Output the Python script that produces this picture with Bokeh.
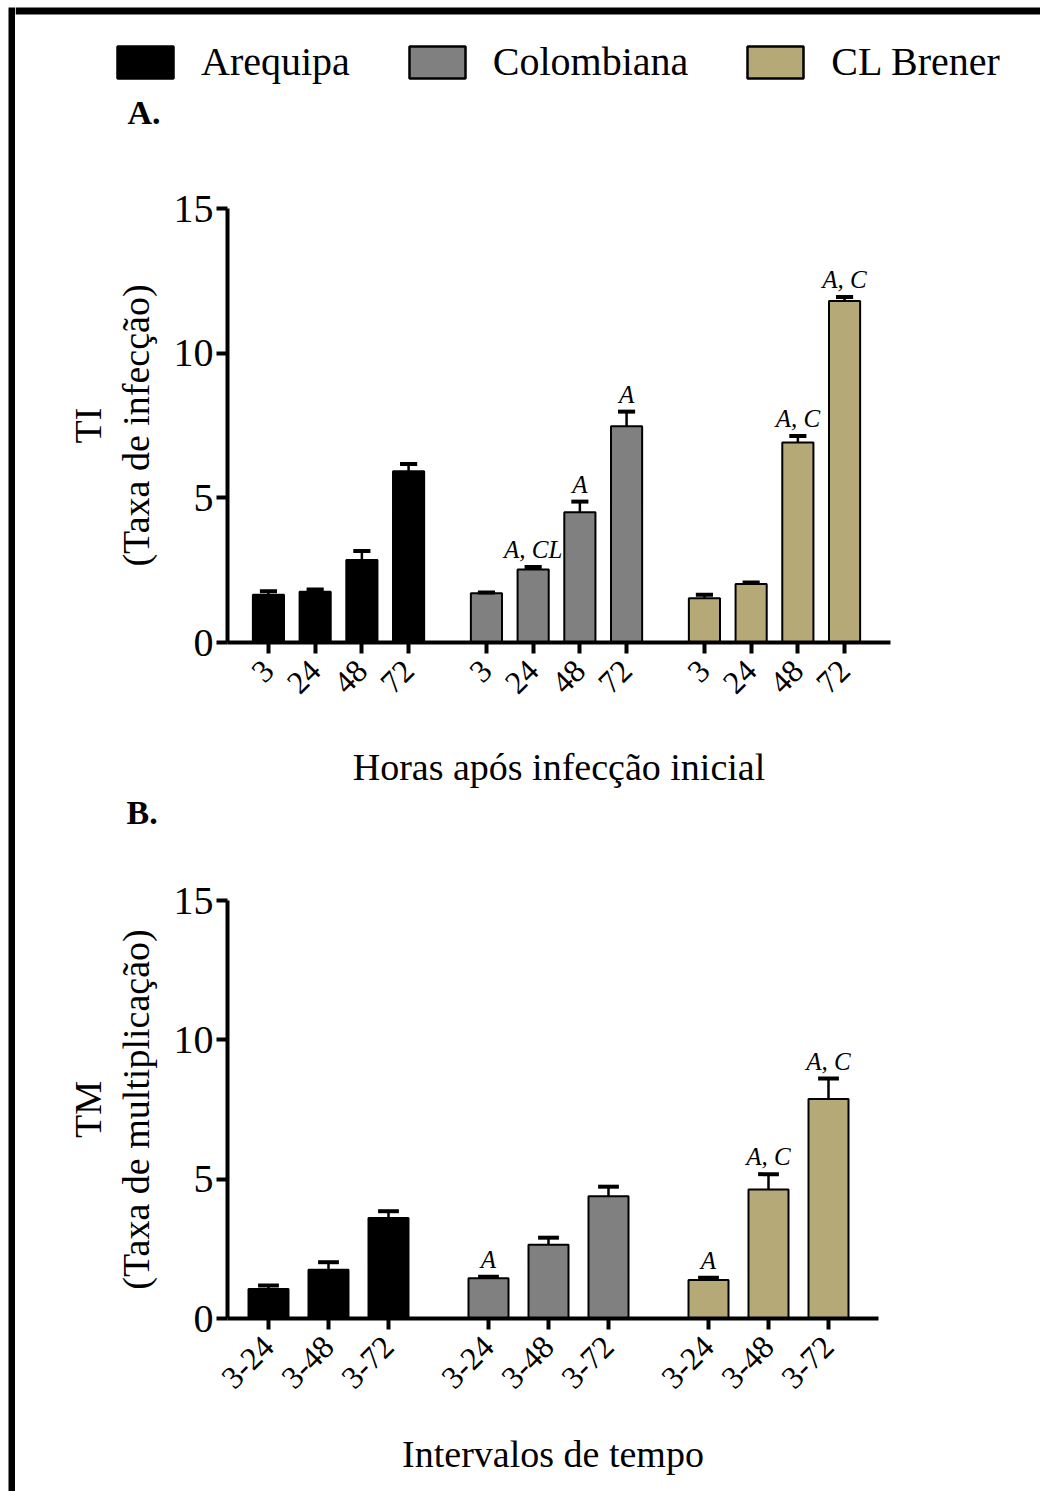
import math
from bokeh.plotting import figure
from bokeh.models import (ColumnDataSource, Range1d, FixedTicker, Label, Legend,
                          LegendItem, BoxAnnotation, Title)
from bokeh.layouts import column, row
from bokeh.embed import file_html
from bokeh.resources import INLINE
from bokeh.core.properties import value

FONT = "Liberation Serif"

# ---------------- data ----------------
strains = ["Arequipa", "Colombiana", "CL Brener"]
strain_colors = ["#000000", "#808080", "#b4a977"]

ti_labels = ["3", "24", "48", "72"]
ti_arequipa = [1.65, 1.75, 2.85, 5.92]
ti_arequipa_err = [0.12, 0.08, 0.31, 0.25]
ti_colombiana = [1.70, 2.52, 4.50, 7.47]
ti_colombiana_err = [0.03, 0.09, 0.37, 0.51]
ti_clbrener = [1.53, 2.02, 6.91, 11.80]
ti_clbrener_err = [0.12, 0.05, 0.23, 0.14]
ti_marks_arequipa = ["", "", "", ""]
ti_marks_colombiana = ["", "A, CL", "A", "A"]
ti_marks_clbrener = ["", "", "A, C", "A, C"]

tm_labels = ["3-24", "3-48", "3-72"]
tm_arequipa = [1.06, 1.75, 3.61]
tm_arequipa_err = [0.12, 0.27, 0.24]
tm_colombiana = [1.44, 2.65, 4.39]
tm_colombiana_err = [0.06, 0.25, 0.34]
tm_clbrener = [1.38, 4.63, 7.88]
tm_clbrener_err = [0.08, 0.55, 0.73]
tm_marks_arequipa = ["", "", ""]
tm_marks_colombiana = ["A", "", ""]
tm_marks_clbrener = ["A", "A, C", "A, C"]

y_ticks = [0, 5, 10, 15]

PAGE_W = 1040
STRIP_W = 15
CONTENT_W = PAGE_W - STRIP_W
HDR_A = 150
SPLIT = 791      # page y where panel A ends and the "B." header starts
B_TOP = 870      # page y where panel B starts


def blank_fig(width, height, y_top, y_bottom):
    f = figure(width=width, height=height, output_backend="svg",
               toolbar_location=None, x_axis_location=None, y_axis_location=None,
               x_range=Range1d(0, width), y_range=Range1d(y_bottom, y_top),
               min_border=0, frame_align=False)
    f.outline_line_color = None
    f.background_fill_color = "white"
    f.border_fill_color = "white"
    f.xgrid.visible = False
    f.ygrid.visible = False
    return f


def make_panel(labels, means, errs, marks, group_step, x_start, x_end,
               height, border_top, border_bottom, border_right, cap_half,
               mark_pad, ylab1, ylab2, xlab, xlab_standoff):
    p = figure(width=CONTENT_W, height=height, output_backend="svg",
               toolbar_location=None, frame_align=False,
               x_range=Range1d(x_start, x_end), y_range=Range1d(0, 15),
               min_border_left=227 - STRIP_W, min_border_right=border_right,
               min_border_top=border_top, min_border_bottom=border_bottom)
    p.background_fill_color = "white"
    p.border_fill_color = "white"
    p.outline_line_color = None
    p.xgrid.visible = False
    p.ygrid.visible = False

    tick_pos = []
    overrides = {}
    for g in range(3):
        xs = [g * group_step + i * 3 for i in range(len(labels))]
        for x, lab in zip(xs, labels):
            tick_pos.append(x)
            overrides[x] = lab
        tops = [m + e for m, e in zip(means[g], errs[g])]
        src = ColumnDataSource(dict(
            x=xs, top=means[g], etop=tops,
            ytext=[t + mark_pad for t in tops],
            x0=[x - cap_half for x in xs], x1=[x + cap_half for x in xs],
            mark=marks[g]))
        p.vbar(x="x", top="top", bottom=0, width=2.0, source=src,
               fill_color=strain_colors[g], line_color="black", line_width=2)
        p.segment(x0="x", y0="top", x1="x", y1="etop", source=src,
                  line_color="black", line_width=2.5)
        p.segment(x0="x0", y0="etop", x1="x1", y1="etop", source=src,
                  line_color="black", line_width=4)
        p.text(x="x", y="ytext", text="mark", source=src,
               text_align="center", text_baseline="alphabetic",
               text_font=value(FONT), text_font_style="italic",
               text_font_size="25px", text_color="black")

    p.xaxis.ticker = FixedTicker(ticks=tick_pos)
    p.xaxis.major_label_overrides = overrides
    p.xaxis.major_label_orientation = math.pi / 4
    p.yaxis.ticker = FixedTicker(ticks=y_ticks)
    for ax in (p.xaxis, p.yaxis):
        ax.axis_line_width = 4
        ax.axis_line_color = "black"
        ax.major_tick_line_width = 4
        ax.major_tick_line_color = "black"
        ax.major_tick_out = 11
        ax.major_tick_in = 0
        ax.minor_tick_out = 0
        ax.minor_tick_in = 0
        ax.major_label_text_font = FONT
        ax.major_label_text_color = "black"
        ax.axis_label_text_font = FONT
        ax.axis_label_text_font_style = "normal"
        ax.axis_label_text_color = "black"
        ax.axis_label_text_font_size = "38px"
    p.xaxis.major_label_text_font_size = "32px"
    p.xaxis.major_label_standoff = 12
    p.xaxis.axis_label = xlab
    p.xaxis.axis_label_standoff = xlab_standoff
    p.yaxis.major_label_text_font_size = "40px"
    p.yaxis.major_label_standoff = 3
    p.yaxis.axis_label = ylab2
    p.yaxis.axis_label_standoff = 14
    p.add_layout(Title(text=ylab1, align="center", text_font=FONT,
                       text_font_style="normal", text_font_size="38px",
                       text_color="black", standoff=6), "left")
    return p


# strip with the page frame's left line
strip = blank_fig(STRIP_W, 1491, 0, 1491)
strip.add_layout(BoxAnnotation(left=8, right=15, top=7, bottom=1491,
                               fill_color="black", fill_alpha=1, line_alpha=0))

# header above panel A: page frame top line, legend, letter
hdrA = blank_fig(CONTENT_W, HDR_A, 0, HDR_A)
hdrA.add_layout(BoxAnnotation(left=0, right=CONTENT_W, top=7, bottom=14,
                              fill_color="black", fill_alpha=1, line_alpha=0))
# hidden renderers that only lend their style to the legend swatches
ti_series = [ti_arequipa, ti_colombiana, ti_clbrener]
swatches = []
for c, vals in zip(strain_colors, ti_series):
    r = hdrA.vbar(x=list(range(len(vals))), top=vals, width=0.5, fill_color=c,
                  line_color="black", line_width=2.5)
    r.visible = False
    swatches.append(r)
legend = Legend(items=[LegendItem(label=s, renderers=[r]) for s, r in zip(strains, swatches)],
                orientation="horizontal", location=(110 - STRIP_W, HDR_A - 85),
                glyph_width=70, glyph_height=40, label_standoff=21, spacing=52,
                padding=0, margin=0, label_text_font=FONT,
                label_text_font_size="40px", label_text_color="black",
                border_line_alpha=0, background_fill_alpha=0)
hdrA.add_layout(legend)
hdrA.add_layout(Label(x=127 - STRIP_W, y=112, text="A.", text_font=FONT,
                      text_font_style="bold", text_font_size="34px",
                      text_baseline="alphabetic", text_color="black"))

pA = make_panel(
    ti_labels,
    ti_series,
    [ti_arequipa_err, ti_colombiana_err, ti_clbrener_err],
    [ti_marks_arequipa, ti_marks_colombiana, ti_marks_clbrener],
    group_step=14, x_start=-2.63, x_end=39.95,
    height=SPLIT - HDR_A, border_top=208 - HDR_A, border_bottom=SPLIT - 642,
    border_right=PAGE_W - 890, cap_half=0.55, mark_pad=0.6,
    ylab1="TI", ylab2="(Taxa de infecção)", xlab="Horas após infecção inicial",
    xlab_standoff=40)

hdrB = blank_fig(CONTENT_W, B_TOP - SPLIT, SPLIT, B_TOP)
hdrB.add_layout(Label(x=126 - STRIP_W, y=812, text="B.", text_font=FONT,
                      text_font_style="bold", text_font_size="34px",
                      text_baseline="alphabetic", text_color="black"))

pB = make_panel(
    tm_labels,
    [tm_arequipa, tm_colombiana, tm_clbrener],
    [tm_arequipa_err, tm_colombiana_err, tm_clbrener_err],
    [tm_marks_arequipa, tm_marks_colombiana, tm_marks_clbrener],
    group_step=11, x_start=-2.05, x_end=30.5,
    height=1491 - B_TOP, border_top=900 - B_TOP, border_bottom=1491 - 1318,
    border_right=PAGE_W - 878, cap_half=0.52, mark_pad=0.62,
    ylab1="TM", ylab2="(Taxa de multiplicação)", xlab="Intervalos de tempo",
    xlab_standoff=32)

layout = row(strip, column(hdrA, pA, hdrB, pB, spacing=0), spacing=0)
open("out.html", "w").write(file_html(layout, INLINE))
